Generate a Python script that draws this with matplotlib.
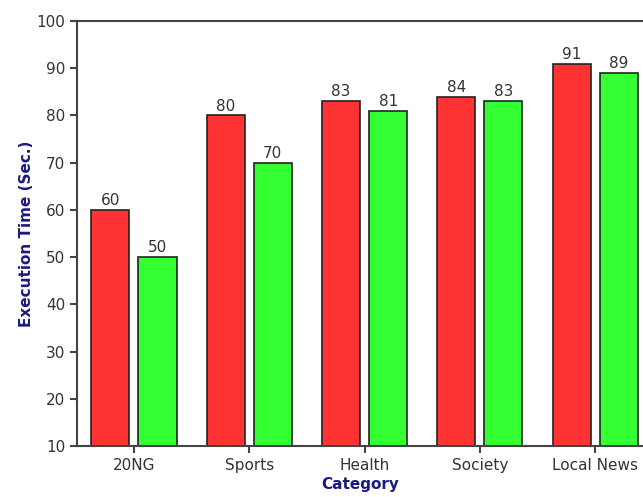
import matplotlib
matplotlib.use("Agg")
import matplotlib.pyplot as plt
import numpy as np

categories = ["20NG", "Sports", "Health", "Society", "Local News"]
red_values = [60, 80, 83, 84, 91]
green_values = [50, 70, 81, 83, 89]

fig = plt.figure(figsize=(6.43, 4.97), dpi=100)
ax = fig.add_axes([77 / 643, 51 / 497, 1 - 77 / 643, 425 / 497])

x = np.arange(len(categories))
off = 0.204
w = 0.33
ax.bar(x - off, [v - 10 for v in red_values], w, bottom=10,
       color="#ff3333", edgecolor="#222222", linewidth=1.2)
ax.bar(x + off, [v - 10 for v in green_values], w, bottom=10,
       color="#33ff33", edgecolor="#222222", linewidth=1.2)

for xi, v in zip(x - off, red_values):
    ax.text(xi, v + 0.4, str(v), ha="center", va="bottom", fontsize=11, color="#333333")
for xi, v in zip(x + off, green_values):
    ax.text(xi, v + 0.4, str(v), ha="center", va="bottom", fontsize=11, color="#333333")

ax.set_xlim(-0.494, 4.414)
ax.set_ylim(10, 100)
ax.set_yticks(range(10, 101, 10))
ax.set_xticks(x)
ax.set_xticklabels(categories)
ax.tick_params(axis="both", labelsize=11, colors="#444444", labelcolor="#333333",
               length=5, width=1.5)

for s in ["left", "bottom", "top"]:
    ax.spines[s].set_color("#444444")
    ax.spines[s].set_linewidth(1.5)
ax.spines["right"].set_visible(False)

ax.set_xlabel("Category", fontsize=11, fontweight="bold", color="#1a1a80", labelpad=3)
ax.set_ylabel("Execution Time (Sec.)", fontsize=11, fontweight="bold", color="#1a1a80", labelpad=2)

fig.savefig("out.png", dpi=100)
